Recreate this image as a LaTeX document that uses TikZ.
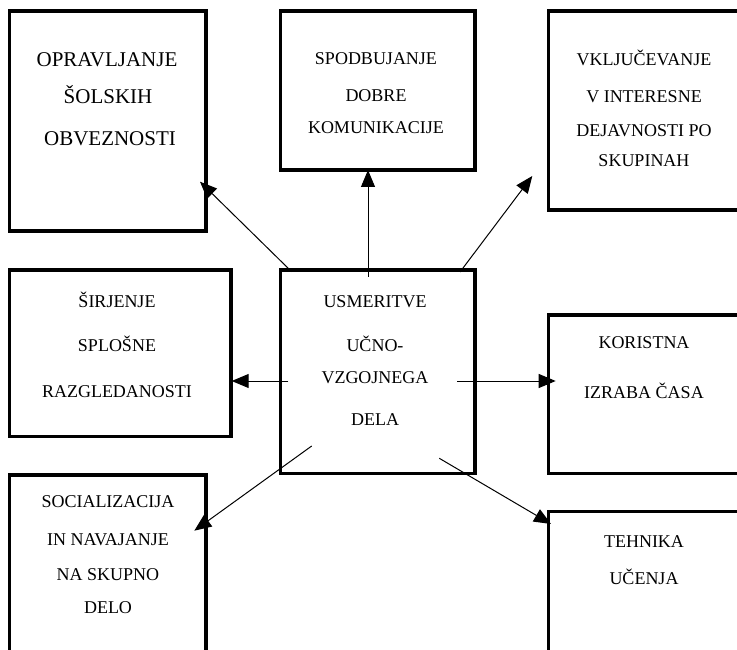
\documentclass[tikz,border=0pt]{standalone}
\usepackage{fontspec}
\setmainfont{Liberation Serif}
\usetikzlibrary{arrows.meta}
\tikzset{
  box/.style={draw, line width=3.3pt, rectangle, inner sep=0pt},
  txt/.style={anchor=base, inner sep=0pt, font=\fontsize{18}{20}\selectfont},
  bigtxt/.style={anchor=base, inner sep=0pt, font=\fontsize{21}{24}\selectfont},
  arr/.style={draw, line width=1pt, -{Triangle[length=17pt,width=14pt]}}
}
\begin{document}
\begin{tikzpicture}[x=1pt,y=-1pt]
\useasboundingbox (0,0) rectangle (737,650);
\fill[white] (0,0) rectangle (737,650);
\clip (0,0) rectangle (737,650);
% boxes
\node[box, minimum width=196.5pt, minimum height=220pt] (b1) at (107.75,121) {};
\node[box, minimum width=194.5pt, minimum height=159pt] (b2) at (377.75,90.5) {};
\node[box, minimum width=196.5pt, minimum height=199pt] (b3) at (646.75,110.5) {};
\node[box, minimum width=221.5pt, minimum height=166.5pt] (b4) at (120.25,353.25) {};
\node[box, minimum width=194.5pt, minimum height=203.5pt] (c) at (377.75,371.75) {};
\node[box, minimum width=196.5pt, minimum height=158.5pt] (b6) at (646.75,394.25) {};
\node[box, minimum width=196.5pt, minimum height=190pt] (b7) at (107.75,570) {};
\node[box, minimum width=196.5pt, minimum height=153.5pt] (b8) at (646.75,588.25) {};
% texts
\node[bigtxt] (t1a) at (107,66.7) {OPRAVLJANJE};
\node[bigtxt] (t1b) at (108,103.3) {ŠOLSKIH};
\node[bigtxt] (t1c) at (110,146) {OBVEZNOSTI};
\node[txt] (t2a) at (376,65) {SPODBUJANJE};
\node[txt] (t2b) at (376,102) {DOBRE};
\node[txt] (t2c) at (376,134) {KOMUNIKACIJE};
\node[txt] (t3a) at (644,66) {VKLJUČEVANJE};
\node[txt] (t3b) at (644,103) {V INTERESNE};
\node[txt] (t3c) at (644,137) {DEJAVNOSTI PO};
\node[txt] (t3d) at (644,167) {SKUPINAH};
\node[txt] (t4a) at (117,307) {ŠIRJENJE};
\node[txt] (t4b) at (117,351) {SPLOŠNE};
\node[txt] (t4c) at (117,397) {RAZGLEDANOSTI};
\node[txt] (tca) at (375,307) {USMERITVE};
\node[txt] (tcb) at (375,351) {UČNO-};
\node[txt] (tcc) at (375,383) {VZGOJNEGA};
\node[txt] (tcd) at (375,425) {DELA};
\node[txt] (t6a) at (644,348) {KORISTNA};
\node[txt] (t6b) at (644,398) {IZRABA ČASA};
\node[txt] (t7a) at (108,507) {SOCIALIZACIJA};
\node[txt] (t7b) at (108,545) {IN NAVAJANJE};
\node[txt] (t7c) at (108,580) {NA SKUPNO};
\node[txt] (t7d) at (108,613) {DELO};
\node[txt] (t8a) at (644,547) {TEHNIKA};
\node[txt] (t8b) at (644,584) {UČENJA};
% connector end points
\coordinate (s1) at (291.7,271.7); \coordinate (e1) at (200,181.7);
\coordinate (s2) at (368,276.7);   \coordinate (e2) at (368,170);
\coordinate (s3) at (460,272);     \coordinate (e3) at (532.3,176);
\coordinate (s4) at (288.3,381);   \coordinate (e4) at (231.7,381);
\coordinate (s5) at (457.3,381);   \coordinate (e5) at (555.7,381);
\coordinate (s6) at (311.7,446);   \coordinate (e6) at (194.3,530.7);
\coordinate (s7) at (439.3,458.3); \coordinate (e7) at (551,524);
\draw[arr] (s1) -- (e1);
\draw[arr] (s2) -- (e2);
\draw[arr] (s3) -- (e3);
\draw[arr] (s4) -- (e4);
\draw[arr] (s5) -- (e5);
\draw[arr] (s6) -- (e6);
\draw[arr] (s7) -- (e7);
\end{tikzpicture}
\end{document}
